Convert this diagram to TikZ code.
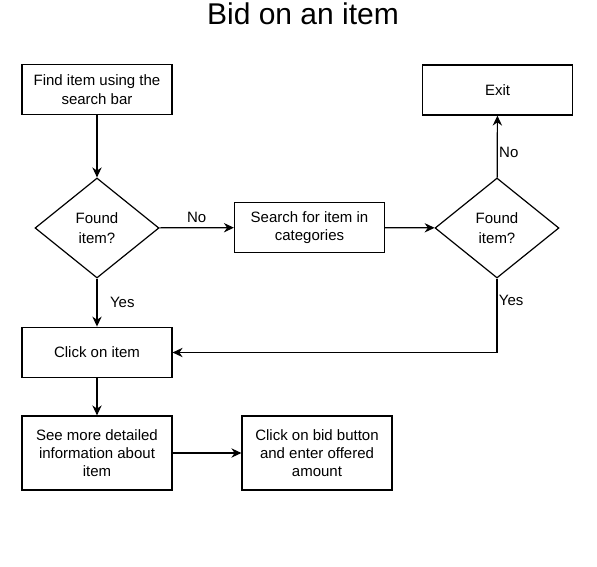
\documentclass[tikz,border=0pt]{standalone}
\usepackage{fontspec}
\setmainfont{Liberation Sans}
\usetikzlibrary{shapes.geometric,arrows.meta}

\tikzset{stepbox/.style={draw, line width=0.9pt, minimum width=112.5pt, align=center, font=\fontsize{11.25}{13.5}\selectfont},
         choice/.style={draw, diamond, line width=0.9pt, minimum width=93pt, minimum height=75pt, inner sep=0pt, align=center, font=\fontsize{11.25}{14.5}\selectfont},
         flow/.style={line width=0.9pt, -{Stealth[length=7.5pt,width=7pt]}},
         tag/.style={font=\fontsize{11.25}{13.5}\selectfont}}

\begin{document}
\begin{tikzpicture}[x=0.75pt,y=-0.75pt]

\useasboundingbox (0,0) rectangle (597,567);

% title
\node[anchor=base, font=\fontsize{22.5}{27}\selectfont] (title) at (303,25) {Bid on an item};

% boxes
\node[stepbox, minimum height=37pt, font=\fontsize{11.25}{14.5}\selectfont] (find) at (97,89.5) {Find item using the\\search bar};
\node[choice] (found1) at (97,228) {Found\\item?};
\node[stepbox, minimum height=37pt] (search) at (309.5,227.5) {Search for item in\\categories};
\node[choice] (found2) at (497,228) {Found\\item?};
\node[stepbox, minimum height=37.5pt] (exit) at (497.5,90) {Exit};
\node[stepbox, minimum height=38pt] (click) at (97,352.5) {Click on item};
\node[stepbox, minimum height=55.5pt] (info) at (97,453) {See more detailed\\information about\\item};
\node[stepbox, minimum height=55.5pt] (bid) at (317,453) {Click on bid button\\and enter offered\\amount};

% connect the boxes
\draw[flow] (find) -- (found1);
\draw[flow] (found1) -- node[tag, above] {No} (search);
\draw[flow] (search) -- (found2);
\draw[flow] (found2) -- node[tag, pos=0.4, right, inner sep=1pt] {No} (exit);
\draw[flow] (found2.south) |- node[tag, pos=0.15, right, inner sep=1pt] {Yes} (click.east);
\draw[flow] (found1) -- node[tag, right=6pt] {Yes} (click);
\draw[flow] (click) -- (info);
\draw[flow] (info) -- (bid);

\end{tikzpicture}
\end{document}
